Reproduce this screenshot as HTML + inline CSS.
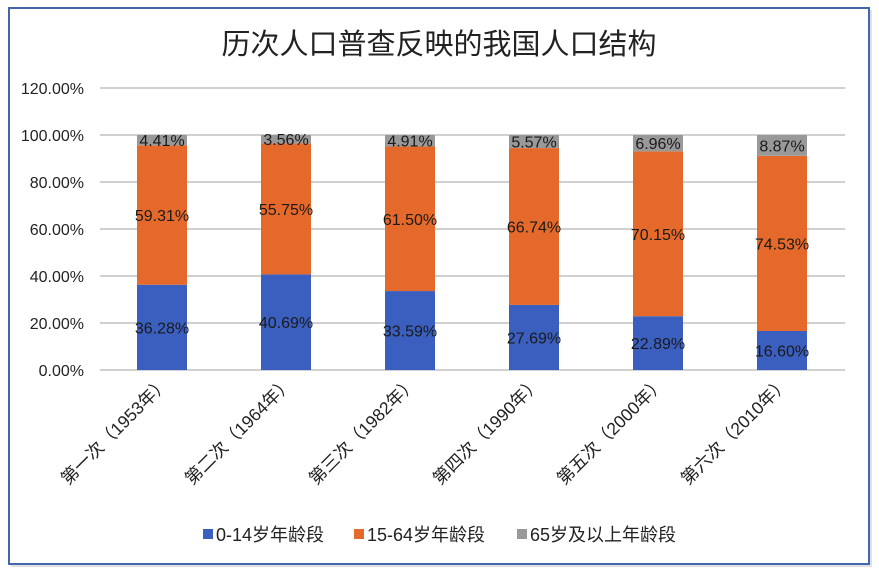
<!DOCTYPE html><html><head><meta charset="utf-8"><style>body{margin:0;background:#fff}svg{display:block}text{font-family:"Liberation Sans","Noto Sans CJK SC",sans-serif}</style></head><body>
<svg width="879" height="574" xmlns="http://www.w3.org/2000/svg">
<rect x="11" y="10" width="861" height="557" fill="#ccc" opacity="0.6"/>
<rect x="9" y="8" width="860" height="556" fill="#fff" stroke="#4466aa" stroke-width="2"/>
<text x="439" y="54" font-size="29" text-anchor="middle" fill="#222">历次人口普查反映的我国人口结构</text>
<g stroke="#d0d0d0" stroke-width="2">
<line x1="100" x2="845" y1="88" y2="88"/><line x1="100" x2="845" y1="135" y2="135"/><line x1="100" x2="845" y1="182" y2="182"/><line x1="100" x2="845" y1="229" y2="229"/><line x1="100" x2="845" y1="276" y2="276"/><line x1="100" x2="845" y1="323" y2="323"/><line x1="100" x2="845" y1="370" y2="370"/></g>
<g font-size="16" fill="#222" text-anchor="end">
<text x="84" y="94">120.00%</text><text x="84" y="141">100.00%</text><text x="84" y="188">80.00%</text><text x="84" y="235">60.00%</text><text x="84" y="282">40.00%</text><text x="84" y="329">20.00%</text><text x="84" y="376">0.00%</text></g>
<g>
<rect x="137" y="284.74" width="50" height="85.26" fill="#3a5fbf"/><rect x="137" y="145.36" width="50" height="139.38" fill="#e5692a"/><rect x="137" y="135" width="50" height="10.36" fill="#999"/>
<rect x="261" y="274.38" width="50" height="95.62" fill="#3a5fbf"/><rect x="261" y="143.37" width="50" height="131.01" fill="#e5692a"/><rect x="261" y="135" width="50" height="8.37" fill="#999"/>
<rect x="385" y="291.06" width="50" height="78.94" fill="#3a5fbf"/><rect x="385" y="146.53" width="50" height="144.53" fill="#e5692a"/><rect x="385" y="135" width="50" height="11.54" fill="#999"/>
<rect x="509" y="304.93" width="50" height="65.07" fill="#3a5fbf"/><rect x="509" y="148.09" width="50" height="156.84" fill="#e5692a"/><rect x="509" y="135" width="50" height="13.09" fill="#999"/>
<rect x="633" y="316.21" width="50" height="53.79" fill="#3a5fbf"/><rect x="633" y="151.36" width="50" height="164.85" fill="#e5692a"/><rect x="633" y="135" width="50" height="16.36" fill="#999"/>
<rect x="757" y="330.99" width="50" height="39.01" fill="#3a5fbf"/><rect x="757" y="155.84" width="50" height="175.15" fill="#e5692a"/><rect x="757" y="135" width="50" height="20.84" fill="#999"/>
</g>
<g font-size="16" fill="#1a1a1a" text-anchor="middle">
<text x="162" y="333.4">36.28%</text><text x="162" y="221">59.31%</text><text x="162" y="146">4.41%</text>
<text x="286" y="328.2">40.69%</text><text x="286" y="214.9">55.75%</text><text x="286" y="145">3.56%</text>
<text x="410" y="336.5">33.59%</text><text x="410" y="224.8">61.50%</text><text x="410" y="146.5">4.91%</text>
<text x="534" y="343.5">27.69%</text><text x="534" y="232.5">66.74%</text><text x="534" y="147.5">5.57%</text>
<text x="658" y="349.1">22.89%</text><text x="658" y="239.8">70.15%</text><text x="658" y="149">6.96%</text>
<text x="782" y="356.5">16.60%</text><text x="782" y="249.4">74.53%</text><text x="782" y="151.4">8.87%</text>
</g>
<g font-size="17.5" fill="#222" text-anchor="end">
<text transform="translate(170,384) rotate(-45)">第一次（1953年）</text>
<text transform="translate(294,384) rotate(-45)">第二次（1964年）</text>
<text transform="translate(418,384) rotate(-45)">第三次（1982年）</text>
<text transform="translate(542,384) rotate(-45)">第四次（1990年）</text>
<text transform="translate(666,384) rotate(-45)">第五次（2000年）</text>
<text transform="translate(790,384) rotate(-45)">第六次（2010年）</text>
</g>
<g font-size="18" fill="#222">
<rect x="203" y="529" width="10" height="10" fill="#3a5fbf"/><text x="216" y="541">0-14岁年龄段</text>
<rect x="354" y="529" width="10" height="10" fill="#e5692a"/><text x="367" y="541">15-64岁年龄段</text>
<rect x="517" y="529" width="10" height="10" fill="#999"/><text x="530" y="541">65岁及以上年龄段</text></g>
</svg></body></html>
